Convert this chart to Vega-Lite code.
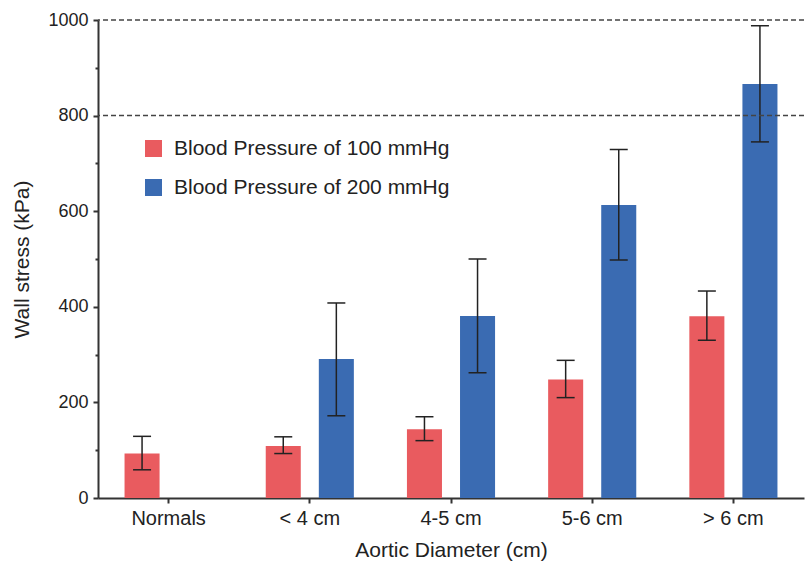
{
  "$schema": "https://vega.github.io/schema/vega-lite/v6.json",
  "autosize": "none",
  "width": 706,
  "height": 478,
  "padding": {"left": 98, "top": 20, "right": 5, "bottom": 68},
  "config": {
    "font": "Liberation Sans",
    "view": {"stroke": null},
    "axis": {"labelFontSize": 20, "titleFontSize": 21, "titleFontWeight": "normal", "labelColor": "#222", "titleColor": "#222", "domainColor": "#333", "domainWidth": 2, "tickColor": "#333", "tickWidth": 2, "grid": false}
  },
  "datasets": {
    "bars": [
      {"group": "Normals", "bp": "Blood Pressure of 100 mmHg", "value": 93, "lo": 59, "hi": 129},
      {"group": "< 4 cm", "bp": "Blood Pressure of 100 mmHg", "value": 109, "lo": 93, "hi": 128},
      {"group": "< 4 cm", "bp": "Blood Pressure of 200 mmHg", "value": 291, "lo": 172, "hi": 408},
      {"group": "4-5 cm", "bp": "Blood Pressure of 100 mmHg", "value": 144, "lo": 120, "hi": 170},
      {"group": "4-5 cm", "bp": "Blood Pressure of 200 mmHg", "value": 381, "lo": 262, "hi": 500},
      {"group": "5-6 cm", "bp": "Blood Pressure of 100 mmHg", "value": 248, "lo": 210, "hi": 288},
      {"group": "5-6 cm", "bp": "Blood Pressure of 200 mmHg", "value": 613, "lo": 498, "hi": 729},
      {"group": "> 6 cm", "bp": "Blood Pressure of 100 mmHg", "value": 380, "lo": 330, "hi": 433},
      {"group": "> 6 cm", "bp": "Blood Pressure of 200 mmHg", "value": 866, "lo": 745, "hi": 988}
    ],
    "refs": [{"y": 800}, {"y": 1000}]
  },
  "layer": [
    {
      "data": {"name": "bars"},
      "mark": {"type": "bar"},
      "encoding": {
        "x": {"field": "group", "type": "nominal", "sort": ["Normals", "< 4 cm", "4-5 cm", "5-6 cm", "> 6 cm"], "scale": {"paddingInner": 0, "paddingOuter": 0}, "axis": {"title": "Aortic Diameter (cm)", "labelAngle": 0, "tickSize": 5, "labelPadding": 5, "titlePadding": 11}},
        "xOffset": {"field": "bp", "type": "nominal", "scale": {"paddingInner": 0.34, "paddingOuter": 0.5}},
        "y": {"field": "value", "type": "quantitative", "scale": {"domain": [0, 1000]}, "axis": {"title": "Wall stress (kPa)", "format": "d", "labelFontSize": 18, "values": [0, 100, 200, 300, 400, 500, 600, 700, 800, 900, 1000], "labelExpr": "datum.value % 200 === 0 ? datum.label : ''", "tickSize": {"condition": {"test": "datum.value % 200 === 0", "value": 5}, "value": 3}, "labelPadding": 5, "titlePadding": 15}},
        "color": {"field": "bp", "type": "nominal", "scale": {"range": ["#E95B5F", "#3A6BB2"]}, "legend": {"title": null, "orient": "none", "legendX": 45, "legendY": 118, "symbolType": "square", "symbolSize": 289, "symbolStrokeWidth": 0, "labelFontSize": 21, "labelColor": "#222", "labelOffset": 10, "labelLimit": 0, "rowPadding": 17}}
      }
    },
    {
      "data": {"name": "bars"},
      "mark": {"type": "rule", "color": "#222", "strokeWidth": 1.5},
      "encoding": {
        "x": {"field": "group", "type": "nominal", "sort": ["Normals", "< 4 cm", "4-5 cm", "5-6 cm", "> 6 cm"]},
        "xOffset": {"field": "bp", "type": "nominal"},
        "y": {"field": "lo", "type": "quantitative"},
        "y2": {"field": "hi"}
      }
    },
    {
      "data": {"name": "bars"},
      "mark": {"type": "tick", "color": "#222", "thickness": 1.5, "size": 18, "opacity": 1},
      "encoding": {
        "x": {"field": "group", "type": "nominal", "sort": ["Normals", "< 4 cm", "4-5 cm", "5-6 cm", "> 6 cm"]},
        "xOffset": {"field": "bp", "type": "nominal"},
        "y": {"field": "lo", "type": "quantitative"}
      }
    },
    {
      "data": {"name": "bars"},
      "mark": {"type": "tick", "color": "#222", "thickness": 1.5, "size": 18, "opacity": 1},
      "encoding": {
        "x": {"field": "group", "type": "nominal", "sort": ["Normals", "< 4 cm", "4-5 cm", "5-6 cm", "> 6 cm"]},
        "xOffset": {"field": "bp", "type": "nominal"},
        "y": {"field": "hi", "type": "quantitative"}
      }
    },
    {
      "data": {"name": "refs"},
      "mark": {"type": "rule", "color": "#444", "strokeWidth": 1.5, "strokeDash": [5, 3]},
      "encoding": {
        "y": {"field": "y", "type": "quantitative"}
      }
    }
  ]
}
